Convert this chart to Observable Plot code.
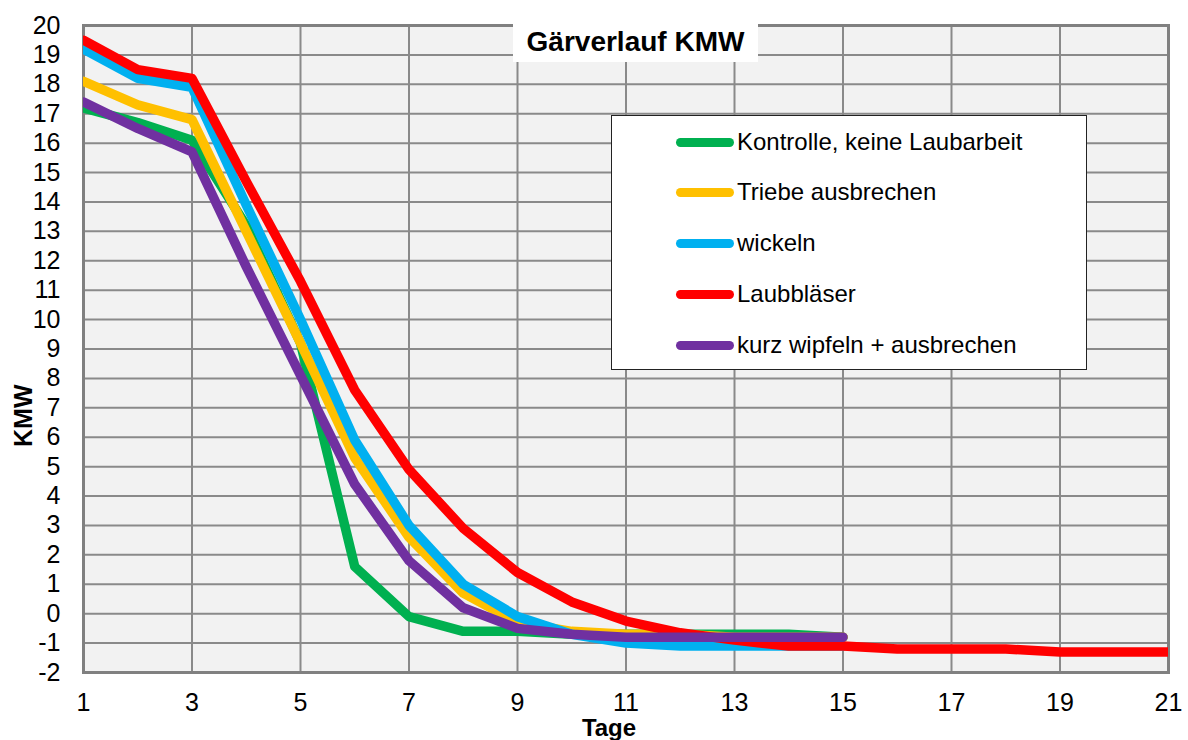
<!DOCTYPE html>
<html>
<head>
<meta charset="utf-8">
<script src="https://cdn.jsdelivr.net/npm/d3@7"></script>
<script src="https://cdn.jsdelivr.net/npm/@observablehq/plot@0.6"></script>
<style>
  html, body { margin: 0; padding: 0; background: #ffffff; }
  #wrap { position: relative; width: 1188px; height: 740px; font-family: "Liberation Sans", Arial, sans-serif; color: #000; }
  #title { position: absolute; left: 513px; top: 22px; width: 245px; height: 40px; background: #fff;
           font-weight: bold; font-size: 28px; line-height: 40px; text-align: center; }
  #legend { position: absolute; left: 611px; top: 115px; width: 476px; height: 255px; background: #fff;
            border: 1.5px solid #222; box-sizing: border-box; }
  .item { position: absolute; left: 64px; height: 30px; display: flex; align-items: center; font-size: 24px; white-space: nowrap; }
  .swatch { width: 58px; height: 9px; border-radius: 5px; margin-right: 3px; }
</style>
</head>
<body>
<div id="wrap">
  <div id="chart"></div>
  <div id="title">Gärverlauf KMW</div>
  <div id="legend"></div>
</div>
<script>
// ---- data ----
const days = [1, 2, 3, 4, 5, 6, 7, 8, 9, 10, 11, 12, 13, 14, 15, 16, 17, 18, 19, 20, 21];
const seriesNames = ["Kontrolle, keine Laubarbeit", "Triebe ausbrechen", "wickeln", "Laubbläser", "kurz wipfeln + ausbrechen"];
const seriesColors = ["#00B050", "#FFC000", "#00B0F0", "#FF0000", "#7030A0"];
const kontrolle = [17.2, 16.7, 16.1, 13.2, 9.2, 1.6, -0.1, -0.6, -0.6, -0.7, -0.7, -0.7, -0.7, -0.7, -0.8];
const triebe    = [18.1, 17.3, 16.8, 13.0, 9.2, 5.3, 2.6, 0.7, -0.3, -0.6, -0.7, -0.7, -0.8, -0.8, -0.8];
const wickeln   = [19.2, 18.2, 17.9, 13.9, 10.0, 5.9, 3.0, 1.0, -0.1, -0.7, -1.0, -1.1, -1.1, -1.1, -1.1];
const laub      = [19.5, 18.5, 18.2, 14.7, 11.3, 7.6, 4.9, 2.9, 1.4, 0.4, -0.25, -0.65, -0.9, -1.1, -1.1, -1.2, -1.2, -1.2, -1.3, -1.3, -1.3];
const wipfeln   = [17.4, 16.5, 15.7, 11.8, 8.1, 4.4, 1.8, 0.2, -0.5, -0.7, -0.8, -0.8, -0.8, -0.8, -0.8];
const xTicks = [1, 3, 5, 7, 9, 11, 13, 15, 17, 19, 21];
const yTicks = [-2, -1, 0, 1, 2, 3, 4, 5, 6, 7, 8, 9, 10, 11, 12, 13, 14, 15, 16, 17, 18, 19, 20];
const xLabel = "Tage";
const yLabel = "KMW";

const seriesValues = [kontrolle, triebe, wickeln, laub, wipfeln];
const rows = seriesValues.map((vals, s) => vals.map((v, i) => ({ day: days[i], value: v, series: seriesNames[s] })));

const lineMarks = rows.map((r, s) => Plot.line(r, {
  x: "day", y: "value", stroke: seriesColors[s], strokeWidth: 9.5,
  strokeLinecap: "round", strokeLinejoin: "round", clip: true
}));

const chart = Plot.plot({
  width: 1188,
  height: 740,
  marginLeft: 83,
  marginRight: 20,
  marginTop: 25,
  marginBottom: 68,
  style: { fontFamily: "Liberation Sans, Arial, sans-serif", fontSize: "25px", color: "#000", background: "transparent" },
  x: { domain: [1, 21] },
  y: { domain: [-2, 20] },
  marks: [
    Plot.frame({ fill: "#F2F2F2" }),
    Plot.ruleX(xTicks, { stroke: "#8a8a8a", strokeWidth: 2 }),
    Plot.ruleY(yTicks, { stroke: "#8a8a8a", strokeWidth: 2 }),
    Plot.frame({ stroke: "#808080", strokeWidth: 3 }),
    ...lineMarks,
    Plot.axisY({ ticks: yTicks, tickSize: 0, tickPadding: 23, label: null, fontSize: 25, tickFormat: d => String(d).replace("−", "-") }),
    Plot.axisX({ ticks: xTicks, tickSize: 0, tickPadding: 21, label: null, fontSize: 25 }),
    Plot.text([xLabel], { text: d => d, frameAnchor: "bottom", dy: 63, dx: -17, fontWeight: "bold", fontSize: 24 }),
    Plot.text([yLabel], { text: d => d, frameAnchor: "left", dx: -60, dy: 98, rotate: -90, fontWeight: "bold", fontSize: 25 })
  ]
});
document.getElementById("chart").appendChild(chart);

// legend
const legend = document.getElementById("legend");
const rowTops = [11, 61, 112, 163, 214];
seriesNames.forEach((name, i) => {
  const it = document.createElement("div");
  it.className = "item";
  it.style.top = rowTops[i] + "px";
  const sw = document.createElement("div");
  sw.className = "swatch";
  sw.style.background = seriesColors[i];
  const tx = document.createElement("span");
  tx.textContent = name;
  it.appendChild(sw);
  it.appendChild(tx);
  legend.appendChild(it);
});
</script>
</body>
</html>
